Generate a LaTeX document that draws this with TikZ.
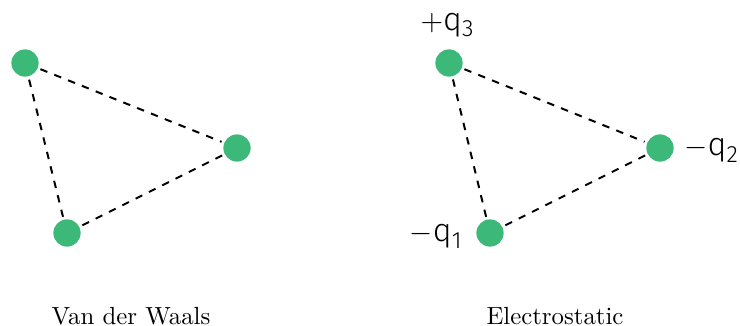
\documentclass[tikz,border=0pt]{standalone}
\usepackage{fontspec}
\newfontfamily\labfont{Fira Sans Light}
\definecolor{atomgreen}{RGB}{60,184,120}
\newcommand{\chg}[2]{{$#1$\labfont q\raisebox{-0.4ex}{\fontsize{9.5pt}{11pt}\selectfont #2}}}
\begin{document}
\begin{tikzpicture}[x=0.4032pt,y=-0.4032pt,
  atom/.style={circle,fill=atomgreen,minimum size=11pt,inner sep=0pt},
  bond/.style={dashed,line width=0.8pt,shorten <=1pt,shorten >=1pt},
  chlabel/.style={inner sep=0pt,font=\fontsize{13pt}{15pt}\selectfont}]
\useasboundingbox (0,0) rectangle (740,326);
% left
\node[atom] (a1) at (25,63) {};
\node[atom] (a2) at (237,148) {};
\node[atom] (a3) at (67,233) {};
\draw[bond] (a1) -- (a2);
\draw[bond] (a2) -- (a3);
\draw[bond] (a3) -- (a1);
\node[inner sep=0pt] (capL) at (131,316) {Van der Waals};
% right
\node[atom] (b3) at (449,63) {};
\node[atom] (b2) at (660,148) {};
\node[atom] (b1) at (490,233) {};
\draw[bond] (b3) -- (b2);
\draw[bond] (b2) -- (b1);
\draw[bond] (b1) -- (b3);
\node[chlabel] (l3) at (447,25) {\chg{+}{3}};
\node[chlabel,anchor=west] (l2) at (684,150) {\chg{-}{2}};
\node[chlabel,anchor=east] (l1) at (462,236) {\chg{-}{1}};
\node[inner sep=0pt] (capR) at (555,316) {Electrostatic};
\end{tikzpicture}
\end{document}
